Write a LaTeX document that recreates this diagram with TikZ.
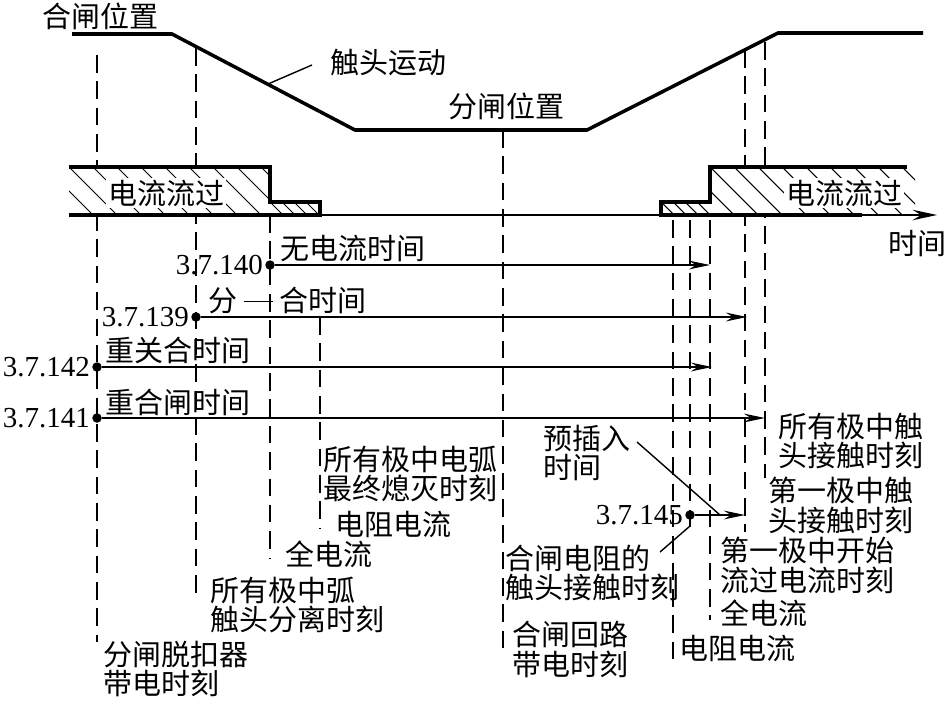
\documentclass[tikz,border=0pt]{standalone}
\usepackage{fontspec}
\setmainfont{Liberation Serif}
\newfontfamily\cjk{Noto Sans CJK SC}
\usetikzlibrary{arrows.meta, positioning}

\begin{document}
\begin{tikzpicture}[
        x=0.02cm, y=-0.02cm,
        lbl/.style={font=\cjk\fontsize{16.5}{17}\selectfont, inner sep=0pt, align=left, anchor=west},
        num/.style={font=\fontsize{16.5}{17}\selectfont, inner sep=0pt},
        dot/.style={circle, fill=black, inner sep=0pt, minimum size=0.19cm},
        travel/.style={line width=2pt},
        block/.style={line width=2pt},
        hatch/.style={line width=0.6pt},
        guide/.style={line width=0.7pt, dash pattern=on 10pt off 5pt},
        span/.style={line width=0.8pt, -{Stealth[length=12pt, width=5pt, inset=4pt]}},
        leader/.style={line width=0.8pt}
        ]
        \useasboundingbox (0,0) rectangle (945,700);

        % guide lines
        \foreach \gx/\gt/\gb in {97/55/642, 196/48/598, 270/215/558, 320/317/528, 503/130/657,
                673/220/660, 690/220/528, 710/220/620, 745/50/532, 765/42/478}
            \draw[guide] (\gx,\gt) -- (\gx,\gb);

        % contact travel
        \draw[travel] (72,34) -- (172,34) -- (355,130) -- (587,130) -- (778,33) -- (923,33);
        \node[lbl] (closepos) at (42,16) {合闸位置};
        \node[lbl] (openpos) at (448,106) {分闸位置};
        \node[lbl] (motion) at (330,63) {触头运动};
        \coordinate (mfoot) at (312,65);
        \coordinate (mtip) at (268,84);
        \draw[leader] (mfoot) -- (mtip);

        % current flow
        \fill[white] (69,167) -| (270,202) -| (320,215) -| cycle;
        \fill[white] (661,215) |- (710,202) |- (915,167) |- cycle;
        \begin{scope}
            \clip (69,167) rectangle (270,215);
            \foreach \hx in {21,45,...,270} \draw[hatch] (\hx,167) -- ++(48,48);
        \end{scope}
        \begin{scope}
            \clip (270,202) rectangle (320,215);
            \foreach \hx in {258,270,...,320} \draw[hatch] (\hx,202) -- ++(13,13);
        \end{scope}
        \begin{scope}
            \clip (661,202) rectangle (710,215);
            \foreach \hx in {649,661,...,710} \draw[hatch] (\hx,202) -- ++(13,13);
        \end{scope}
        \begin{scope}
            \clip (710,167) rectangle (915,215);
            \foreach \hx in {662,686,...,915} \draw[hatch] (\hx,167) -- ++(48,48);
        \end{scope}
        \coordinate (t0) at (69,215);
        \coordinate (taxis) at (937,215);
        \draw[line width=0.8pt, -{Stealth[length=14pt, width=6pt, inset=5pt]}] (t0) -- (taxis);
        \draw[block] (69,167) -- (270,167) -- (270,202) -- (320,202) -- (320,215) -- (69,215);
        \draw[block] (862,215) -- (661,215) -- (661,202) -- (710,202) -- (710,167) -- (907,167);
        \node[lbl, fill=white, inner sep=1pt] (flowL) at (106,193) {电流流过};
        \node[lbl, fill=white, inner sep=1pt] (flowR) at (784,193) {电流流过};
        \node[lbl] (tlabel) at (888,244) {时间};

        % intervals
        \node[dot] (d140) at (270,265) {};
        \node[num, left=1pt of d140] (n140) {3.7.140};
        \node[lbl] (w140) at (280,248) {无电流时间};
        \coordinate (e140) at (710,265);
        \draw[span] (d140) -- (e140);

        \node[dot] (d139) at (196,317) {};
        \node[num, left=1pt of d139] (n139) {3.7.139};
        \node[lbl] (w139) at (208,300) {分 \rule[0.3em]{1em}{0.6pt} 合时间};
        \coordinate (e139) at (747,317);
        \draw[span] (d139) -- (e139);

        \node[dot] (d142) at (97,367) {};
        \node[num, left=1pt of d142] (n142) {3.7.142};
        \node[lbl] (w142) at (105,350) {重关合时间};
        \coordinate (e142) at (712,367);
        \draw[span] (d142) -- (e142);

        \node[dot] (d141) at (97,418) {};
        \node[num, left=1pt of d141] (n141) {3.7.141};
        \node[lbl] (w141) at (105,402) {重合闸时间};
        \coordinate (e141) at (765,418);
        \draw[span] (d141) -- (e141);

        \node[dot] (d145) at (690,515) {};
        \node[num, left=1pt of d145] (n145) {3.7.145};
        \coordinate (e145) at (745,515);
        \draw[span] (d145) -- (e145);

        % instants, left
        \node[lbl] (arcout) at (323,474) {所有极中电弧\\最终熄灭时刻};
        \node[lbl] (rcurL) at (335,524) {电阻电流};
        \node[lbl] (fcurL) at (285,554) {全电流};
        \node[lbl] (arcsep) at (210,605) {所有极中弧\\触头分离时刻};
        \node[lbl] (trip) at (103,669) {分闸脱扣器\\带电时刻};

        % instants, right
        \node[lbl] (preins) at (543,453) {预插入\\时间};
        \coordinate (pfoot) at (637,442);
        \coordinate (ptip) at (720,515);
        \draw[leader] (pfoot) -- (ptip);
        \node[lbl] (alltouch) at (778,441) {所有极中触\\头接触时刻};
        \node[lbl] (firsttouch) at (768,505) {第一极中触\\头接触时刻};
        \node[lbl] (firstflow) at (720,565) {第一极中开始\\流过电流时刻};
        \node[lbl] (fcurR) at (720,613) {全电流};
        \node[lbl] (rcurR) at (679,648) {电阻电流};
        \node[lbl] (rtouch) at (505,573) {合闸电阻的\\触头接触时刻};
        \coordinate (rfoot) at (660,552);
        \coordinate (rtip) at (690,526);
        \draw[leader] (rfoot) -- (rtip);
        \node[lbl] (energ) at (512,649) {合闸回路\\带电时刻};
    \end{tikzpicture}
\end{document}
